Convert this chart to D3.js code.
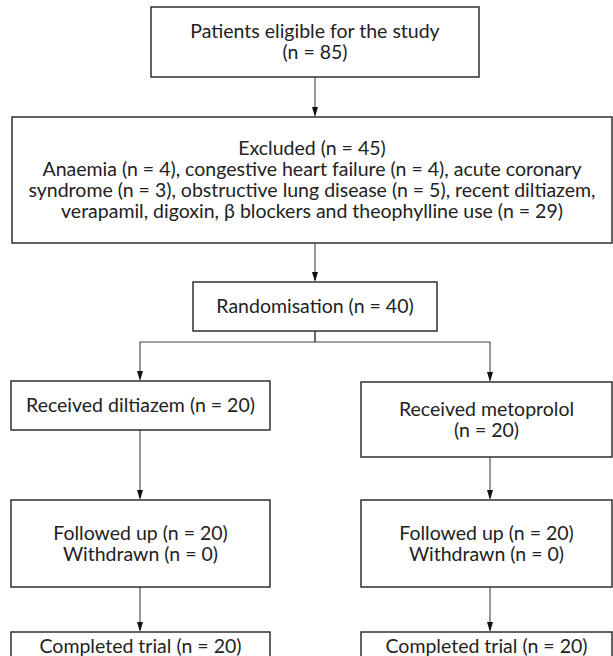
<!DOCTYPE html>
<html><head><meta charset="utf-8">
<script src="https://cdn.jsdelivr.net/npm/d3@7"></script>
<style>html,body{margin:0;padding:0;background:#fff;}</style>
</head><body>
<svg id="c" width="613" height="656"></svg>
<script>
// ---- data ----
const boxIds = ["eligible","excluded","random","dilt","meto","fuL","fuR","compL","compR"];
const boxText = [
  ["Patients eligible for the study","(n = 85)"],
  ["Excluded (n = 45)",
   "Anaemia (n = 4), congestive heart failure (n = 4), acute coronary",
   "syndrome (n = 3), obstructive lung disease (n = 5), recent diltiazem,",
   "verapamil, digoxin, \u03B2 blockers and theophylline use (n = 29)"],
  ["Randomisation (n = 40)"],
  ["Received diltiazem (n = 20)"],
  ["Received metoprolol","(n = 20)"],
  ["Followed up (n = 20)","Withdrawn (n = 0)"],
  ["Followed up (n = 20)","Withdrawn (n = 0)"],
  ["Completed trial (n = 20)"],
  ["Completed trial (n = 20)"]
];
const links = [
  ["eligible","excluded"],["excluded","random"],
  ["random","dilt"],["random","meto"],
  ["dilt","fuL"],["meto","fuR"],["fuL","compL"],["fuR","compR"]
];

// ---- layout (pixel geometry) ----
const geom = {
  eligible:[151,7,479,77],
  excluded:[12,117,612,243],
  random:[193,282,437,331],
  dilt:[11,381,270,430],
  meto:[361,382,612,457],
  fuL:[11,500,270,587],
  fuR:[361,500,612,587],
  compL:[11,632,270,672],
  compR:[361,632,612,672]
};
const colX = {eligible:315,excluded:315,random:315,dilt:140,fuL:140,compL:140,meto:490,fuR:490,compR:490};
const splitY = 342;
const lineH = 21;
const fontSize = 19.5;
const textCenter = {compL:646, compR:646};

const svg = d3.select("#c");

// connectors
const g = svg.append("g");
links.forEach(([a,b])=>{
  const A=geom[a], B=geom[b];
  const xa=colX[a], xb=colX[b];
  let d;
  if (xa===xb) d=`M${xb},${A[3]}V${B[1]-2}`;
  else d=`M${xa},${A[3]}V${splitY}H${xb}V${B[1]-2}`;
  g.append("path").attr("d",d).attr("fill","none").attr("stroke","#444").attr("stroke-width",1.1);
  const ty=B[1];
  g.append("path").attr("d",`M${xb},${ty}L${xb-3},${ty-10}L${xb+3},${ty-10}Z`).attr("fill","#111");
});

// boxes
const nodes = boxIds.map((id,i)=>({id, lines:boxText[i], r:geom[id]}));
const bg = svg.selectAll("g.box").data(nodes).join("g").attr("class","box");
bg.append("rect")
  .attr("x",d=>d.r[0]).attr("y",d=>d.r[1])
  .attr("width",d=>d.r[2]-d.r[0]).attr("height",d=>d.r[3]-d.r[1])
  .attr("fill","none").attr("stroke","#222").attr("stroke-width",1.4);
bg.each(function(d){
  const cx=(d.r[0]+d.r[2])/2;
  const cy= textCenter[d.id]!==undefined ? textCenter[d.id] : (d.r[1]+d.r[3])/2;
  const n=d.lines.length;
  d3.select(this).selectAll("text").data(d.lines).join("text")
    .attr("x",cx).attr("y",(t,i)=>cy+(i-(n-1)/2)*lineH)
    .attr("dy","0.35em").attr("text-anchor","middle")
    .attr("font-family","Lato, 'Open Sans', sans-serif").attr("font-size",fontSize)
    .attr("fill","#222").text(t=>t);
});
</script>
</body></html>
